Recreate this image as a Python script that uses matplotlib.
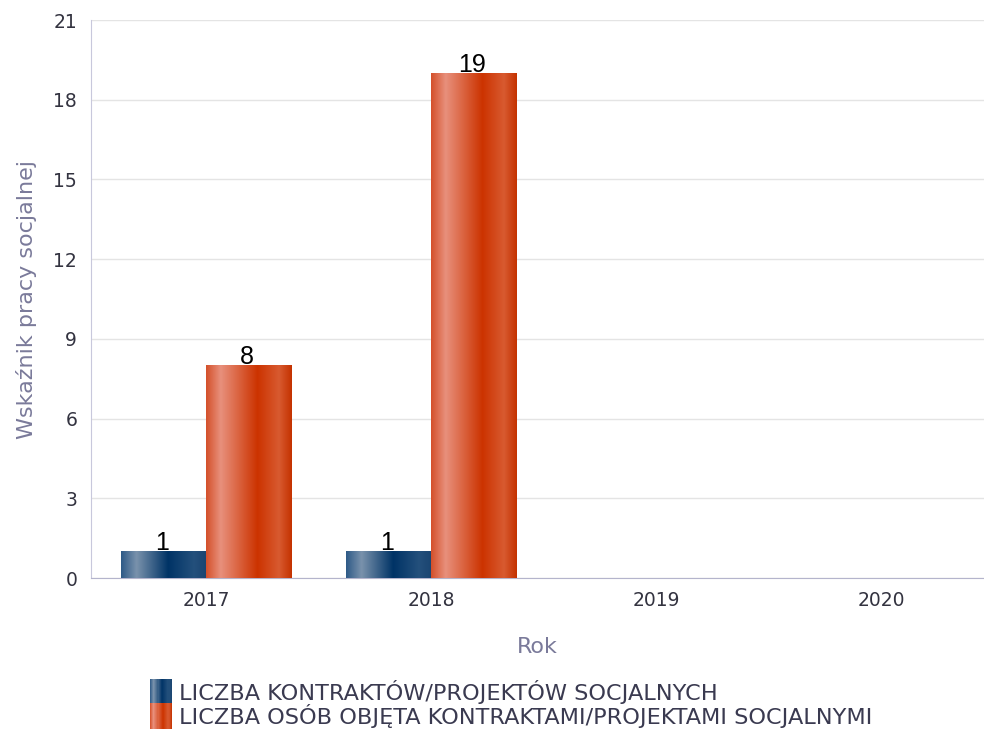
import matplotlib
matplotlib.use("Agg")
import matplotlib.pyplot as plt
import numpy as np
from matplotlib.colors import LinearSegmentedColormap
from matplotlib.legend_handler import HandlerBase
from matplotlib.patches import Rectangle

years = ["2017", "2018", "2019", "2020"]
contracts = [1, 1, 0, 0]
persons = [8, 19, 0, 0]
series_names = ["LICZBA KONTRAKTÓW/PROJEKTÓW SOCJALNYCH",
                "LICZBA OSÓB OBJĘTA KONTRAKTAMI/PROJEKTAMI SOCJALNYMI"]
y_ticks = [0, 3, 6, 9, 12, 15, 18, 21]

blue_cmap = LinearSegmentedColormap.from_list("blue_grad", [
    (0.0, "#2e5a87"), (0.18, "#7a92ac"), (0.55, "#003366"),
    (0.85, "#24507c"), (1.0, "#1a4470")])
orange_cmap = LinearSegmentedColormap.from_list("orange_grad", [
    (0.0, "#d4502a"), (0.17, "#e8907c"), (0.6, "#cc3300"),
    (0.85, "#d85a30"), (1.0, "#c43200")])
grad = np.linspace(0, 1, 256).reshape(1, -1)

plt.rcParams['font.family'] = ['DejaVu Sans']

fig = plt.figure(figsize=(9.84, 7.3), dpi=100)
ax = fig.add_axes([0.0925, 0.2082, 0.9075, 0.7644])

x = np.arange(len(years))
w = 0.378


def gradient_bars(xpos, vals, cmap):
    bars = ax.bar(xpos, vals, w, facecolor="none", edgecolor="none", zorder=3)
    for r, v in zip(bars, vals):
        if v <= 0:
            continue
        x0 = r.get_x()
        ax.imshow(grad, cmap=cmap, aspect="auto", zorder=3,
                  extent=(x0, x0 + r.get_width(), 0, r.get_height()))
        ax.annotate(str(v), (x0 + r.get_width() / 2, v), xytext=(-1, 1),
                    textcoords="offset points", ha="center", va="baseline",
                    fontsize=18, family="Liberation Sans", color="black", zorder=4)
    return bars


gradient_bars(x - w / 2, contracts, blue_cmap)
gradient_bars(x + w / 2, persons, orange_cmap)

ax.set_xlim(-0.511, 3.458)
ax.set_ylim(0, 21)
ax.set_yticks(y_ticks)
ax.set_xticks(x)
ax.set_xticklabels(years)
ax.tick_params(axis="both", length=0, labelsize=13.5, labelcolor="#333340")
ax.tick_params(axis="y", pad=10)
ax.tick_params(axis="x", pad=9)
ax.grid(axis="y", color="#e4e4e4", linewidth=1, zorder=0)
ax.set_axisbelow(True)
for s in ["top", "right"]:
    ax.spines[s].set_visible(False)
ax.spines["left"].set_color("#c8c8dc")
ax.spines["bottom"].set_color("#b4b4cc")

ax.set_ylabel("Wskaźnik pracy socjalnej", fontsize=16, color="#7a7a9a", labelpad=12)
ax.set_xlabel("Rok", fontsize=16, color="#7a7a9a", labelpad=20)


class GradHandler(HandlerBase):
    def __init__(self, cmap):
        super().__init__()
        self.cmap = cmap

    def create_artists(self, legend, orig_handle, xdescent, ydescent,
                       width, height, fontsize, trans):
        n = 20
        arts = []
        for i in range(n):
            r = Rectangle((-xdescent + width * i / n, -ydescent - 2), width / n + 0.3,
                          height + 4, facecolor=self.cmap((i + 0.5) / n),
                          edgecolor="none", transform=trans)
            arts.append(r)
        return arts


h1 = Rectangle((0, 0), 1, 1)
h2 = Rectangle((0, 0), 1, 1)
leg = fig.legend([h1, h2], series_names, loc="upper left",
                 bbox_to_anchor=(0.152, 0.069), frameon=False, fontsize=16.1,
                 handler_map={h1: GradHandler(blue_cmap), h2: GradHandler(orange_cmap)},
                 handlelength=1.0, handleheight=1.0, handletextpad=0.3,
                 labelspacing=0.0, borderaxespad=0, borderpad=0)
for t in leg.get_texts():
    t.set_color("#3a3a50")

fig.savefig("out.png", dpi=100)
